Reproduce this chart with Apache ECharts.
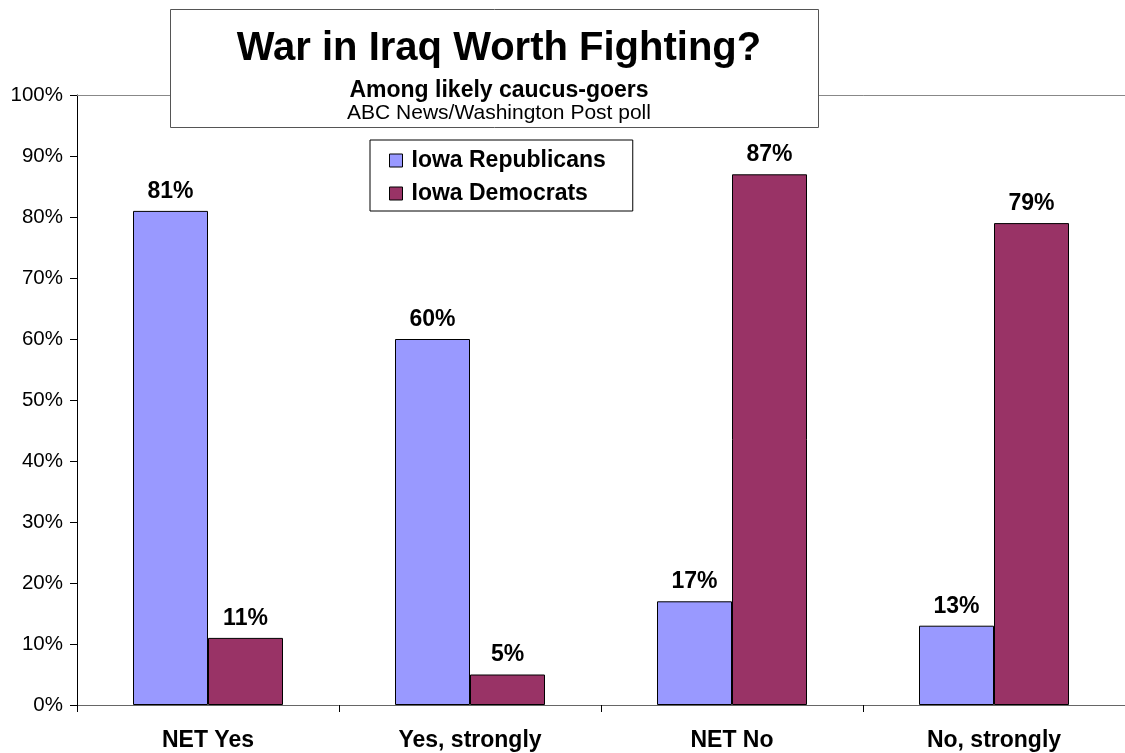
<!DOCTYPE html>
<html>
<head>
<meta charset="utf-8">
<script src="https://cdn.jsdelivr.net/npm/echarts@6/dist/echarts.min.js"></script>
<style>
  html, body { margin: 0; padding: 0; background: #fff; }
  #chart { width: 1125px; height: 753px; }
</style>
</head>
<body>
<div id="chart"></div>
<script>
// Survey answers and shares by party
const categories = ['NET Yes', 'Yes, strongly', 'NET No', 'No, strongly'];
const republicans = [81, 60, 17, 13];
const democrats = [11, 5, 87, 79];
const seriesNames = ['Iowa Republicans', 'Iowa Democrats'];

const FONT = '"Liberation Sans", Arial, sans-serif';

const chart = echarts.init(document.getElementById('chart'));

const labelStyle = {
  show: true,
  position: 'top',
  distance: 8,
  formatter: '{c}%',
  fontFamily: FONT,
  fontSize: 23,
  fontWeight: 'bold',
  color: '#000'
};

chart.setOption({
  backgroundColor: '#fff',
  animation: false,
  textStyle: { fontFamily: FONT },
  grid: { left: 77, top: 95, width: 1052, bottom: 48, containLabel: false },
  title: [
    {
      text: 'War in Iraq Worth Fighting?',
      left: 494, top: 24, textAlign: 'center',
      textStyle: { fontFamily: FONT, fontSize: 40, fontWeight: 'bold', color: '#000' },
      z: 110
    },
    {
      text: 'Among likely caucus-goers',
      left: 494, top: 74, textAlign: 'center',
      textStyle: { fontFamily: FONT, fontSize: 23, fontWeight: 'bold', color: '#000' },
      z: 110
    },
    {
      text: 'ABC News/Washington Post poll',
      left: 494, top: 98, textAlign: 'center',
      textStyle: { fontFamily: FONT, fontSize: 21, fontWeight: 'normal', color: '#000' },
      z: 110
    }
  ],
  graphic: [
    {
      type: 'rect',
      z: 100,
      shape: { x: 170.5, y: 9.5, width: 648, height: 118 },
      style: { fill: '#fff', stroke: '#555', lineWidth: 1 }
    }
  ],
  legend: {
    orient: 'vertical',
    left: 370, top: 140,
    padding: [9, 27, 6, 19],
    itemGap: 10,
    itemWidth: 13, itemHeight: 13,
    itemStyle: { borderColor: '#000', borderWidth: 1 },
    backgroundColor: '#fff',
    borderColor: '#000', borderWidth: 1,
    textStyle: { fontFamily: FONT, fontSize: 23, fontWeight: 'bold', color: '#000', padding: [0, 0, 0, 4] },
    icon: 'rect',
    data: seriesNames
  },
  xAxis: [
    {
      type: 'category',
      data: categories,
      axisLine: { show: true, lineStyle: { color: '#666', width: 1 } },
      axisTick: { show: true, length: 7, lineStyle: { color: '#000' } },
      axisLabel: { margin: 24, fontFamily: FONT, fontSize: 23, fontWeight: 'bold', color: '#000' },
      splitLine: { show: false }
    },
    {
      type: 'category',
      data: categories,
      position: 'top',
      axisLine: { show: true, lineStyle: { color: '#888', width: 1 } },
      axisTick: { show: false },
      axisLabel: { show: false }
    }
  ],
  yAxis: {
    type: 'value',
    min: 0, max: 100, interval: 10,
    axisLine: { show: true, lineStyle: { color: '#000', width: 1 } },
    axisTick: { show: true, length: 7, lineStyle: { color: '#000' } },
    axisLabel: { formatter: '{value}%', margin: 14, fontFamily: FONT, fontSize: 20.5, color: '#000' },
    splitLine: { show: false }
  },
  series: [
    {
      name: seriesNames[0],
      type: 'bar',
      data: republicans,
      barWidth: 75,
      barGap: '0%',
      itemStyle: { color: '#9999FF', borderColor: '#000', borderWidth: 1 },
      label: labelStyle
    },
    {
      name: seriesNames[1],
      type: 'bar',
      data: democrats,
      barWidth: 75,
      barGap: '0%',
      itemStyle: { color: '#993366', borderColor: '#000', borderWidth: 1 },
      label: labelStyle
    }
  ]
});
</script>
</body>
</html>
